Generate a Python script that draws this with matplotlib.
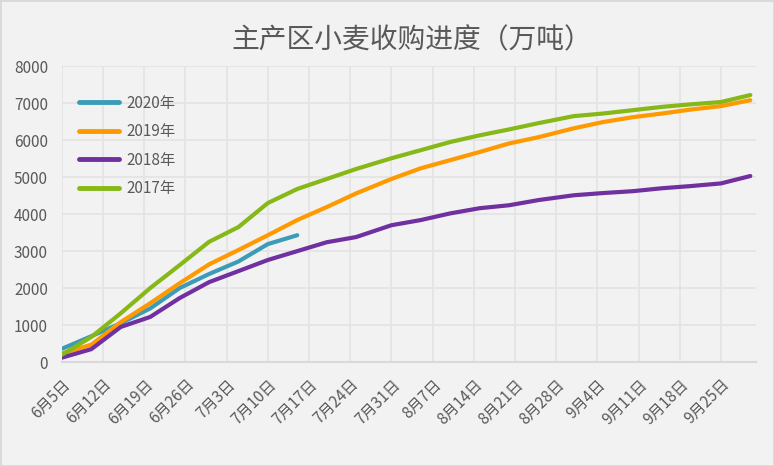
import matplotlib.pyplot as plt
import matplotlib.patches as patches
import pandas as pd

plt.rcParams['font.family'] = ['Noto Sans CJK SC', 'DejaVu Sans']

dates = ['06-05', '06-10', '06-15', '06-20', '06-25', '06-30', '07-05', '07-10',
         '07-15', '07-20', '07-25', '07-31', '08-05', '08-10', '08-15', '08-20',
         '08-25', '08-31', '09-05', '09-10', '09-15', '09-20', '09-25', '09-30']
y2020 = [360, 700, 1050, 1450, 2000, 2380, 2720, 3190, 3430]
y2019 = [230, 470, 1080, 1590, 2130, 2640, 3030, 3430, 3840, 4190, 4560, 4950,
         5240, 5460, 5680, 5910, 6080, 6320, 6490, 6620, 6720, 6830, 6920, 7080]
y2018 = [120, 350, 950, 1220, 1730, 2160, 2460, 2760, 3000, 3240, 3380, 3700,
         3840, 4020, 4160, 4240, 4380, 4510, 4570, 4620, 4700, 4760, 4830, 5030]
y2017 = [200, 680, 1320, 2000, 2620, 3250, 3650, 4300, 4680, 4950, 5220, 5510,
         5730, 5950, 6130, 6290, 6460, 6650, 6720, 6810, 6900, 6970, 7030, 7220]
tick_labels = ['6月5日', '6月12日', '6月19日', '6月26日', '7月3日', '7月10日',
               '7月17日', '7月24日', '7月31日', '8月7日', '8月14日', '8月21日',
               '8月28日', '9月4日', '9月11日', '9月18日', '9月25日']

# days since 6/5
d = pd.to_datetime(['2020-' + s for s in dates])
x = (d - d[0]).days.values

txt = '#595959'
grid = '#e3e3e3'

fig = plt.figure(figsize=(7.74, 4.66), dpi=100, facecolor='#f2f2f2')
fig.patches.append(patches.Rectangle((0, 0), 1, 1, transform=fig.transFigure,
                                     fill=False, edgecolor='#d9d9d9', linewidth=2))
ax = fig.add_axes([0.080, 0.223, 0.897, 0.635])
ax.set_facecolor('#f2f2f2')

ax.plot(x[:len(y2020)], y2020, color='#3c9cb8', lw=3, label='2020年', solid_capstyle='round')
ax.plot(x, y2019, color='#ff9900', lw=3, label='2019年', solid_capstyle='round')
ax.plot(x, y2018, color='#7030a0', lw=3, label='2018年', solid_capstyle='round')
ax.plot(x, y2017, color='#86b817', lw=3, label='2017年', solid_capstyle='round')

ax.set_xlim(0, 118)
ax.set_ylim(0, 8000)
ax.set_yticks(range(0, 8001, 1000))
ax.set_xticks(range(0, 7 * len(tick_labels), 7))
ax.set_xticklabels(tick_labels, rotation=45, ha='right', va='top',
                   rotation_mode='anchor', fontsize=11, color=txt)
ax.tick_params(axis='y', labelsize=11, labelcolor=txt, length=0, pad=10)
ax.tick_params(axis='x', length=0, pad=10)
ax.grid(True, color=grid, linewidth=1.2)
ax.set_axisbelow(True)
for s in ['top', 'right', 'left']:
    ax.spines[s].set_visible(False)
ax.spines['bottom'].set_color('#d9d9d9')
ax.spines['bottom'].set_linewidth(1.5)

fig.text(0.532, 0.914, '主产区小麦收购进度（万吨）', ha='center', va='center',
         fontsize=20, color=txt)

leg = ax.legend(loc='upper left', bbox_to_anchor=(0.005, 0.95), frameon=False,
                fontsize=11, labelcolor=txt, handlelength=2.6, handletextpad=0.5,
                labelspacing=0.75)
for line in leg.get_lines():
    line.set_linewidth(3.5)

fig.savefig('out.png', dpi=100, facecolor=fig.get_facecolor())
